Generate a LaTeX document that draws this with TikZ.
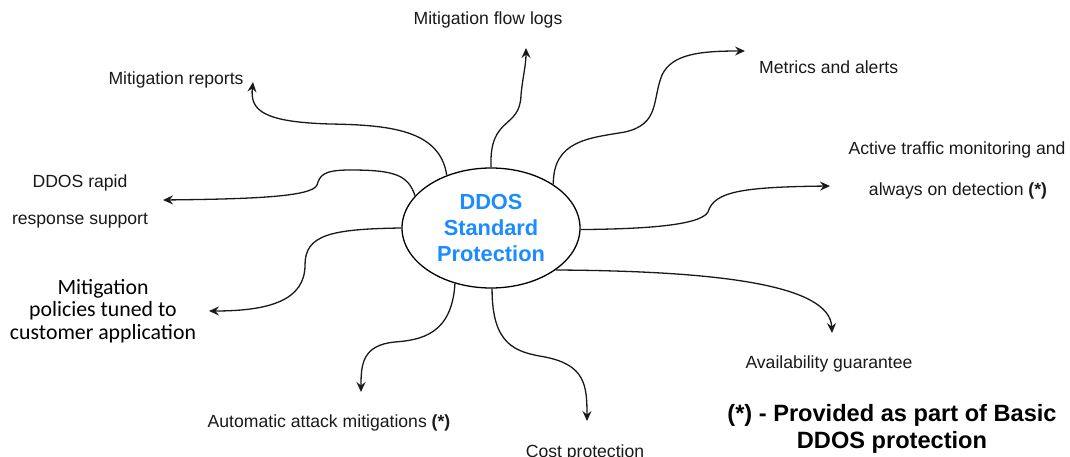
\documentclass[tikz,border=0pt]{standalone}
\usepackage{fontspec}
\setmainfont{Liberation Sans}
\newfontfamily\calib{Carlito}
\usetikzlibrary{shapes.geometric,arrows.meta}
\definecolor{ddblue}{RGB}{26,140,255}
\definecolor{txt}{RGB}{25,25,25}
\begin{document}
\begin{tikzpicture}[x=1pt,y=-1pt,
  conn/.style={line width=1.3pt,draw=black!90,-{Stealth[length=10pt,width=9pt,inset=3.5pt]}},
  lbl/.style={text=txt,font=\fontsize{17.6}{20}\selectfont,inner sep=0pt,align=center},
  hub/.style={ellipse,draw,line width=1.3pt,minimum width=178pt,minimum height=120pt,inner sep=0pt,
    text=ddblue,font=\bfseries\fontsize{21.8}{26}\selectfont,align=center}]
\clip (0,0) rectangle (1070,457);
\useasboundingbox (0,0) rectangle (1070,457);
\node[hub] (e) at (491,228) {DDOS\\Standard\\Protection};

\node[lbl] (logs) at (488,20) {Mitigation flow logs};
\node[lbl] (rep) at (176,80) {Mitigation reports};
\node[lbl,anchor=west] (met) at (759,67) {Metrics and alerts};
\node[lbl] (act1) at (957,150) {Active traffic monitoring and};
\node[lbl] (act2) at (958,191) {always on detection \textbf{(*)}};
\node[lbl] (rap1) at (80,183) {DDOS rapid};
\node[lbl] (rap2) at (80,221) {response support};
\node[lbl,text=black,font=\calib\fontsize{21.8}{22.5}\selectfont] (pol) at (103,311) {Mitigation\\policies tuned to\\customer application};
\node[lbl] (avail) at (829,364) {Availability guarantee};
\node[lbl] (auto) at (329,423) {Automatic attack mitigations \textbf{(*)}};
\node[lbl] (cost) at (585,453) {Cost protection};
\node[lbl,text=black,font=\bfseries\fontsize{23.6}{27}\selectfont] (note) at (892,429) {(*) - Provided as part of Basic\\DDOS protection};

\coordinate (tRep) at (253,82);
\coordinate (tLogs) at (526,48);
\coordinate (tMet) at (745,51);
\coordinate (tAct) at (830,186);
\coordinate (tRap) at (163,200);
\coordinate (tPol) at (209,311);
\coordinate (tAuto) at (361,392);
\coordinate (tCost) at (587,421);
\coordinate (tAv) at (832,333);

\draw[conn] (e.130) .. controls (440,130) and (390,125) .. (330,124) .. controls (262,122) and (250,110) .. (tRep);
\draw[conn] (e.90) .. controls (489,115) and (520,130) .. (521,95) .. controls (523,75) and (526,65) .. (tLogs);
\draw[conn] (e.35) .. controls (553,140) and (590,138) .. (625,132) .. controls (660,124) and (652,100) .. (662,75) .. controls (672,54) and (700,51) .. (tMet);
\draw[conn] (e.-1) .. controls (640,229) and (700,226) .. (708,212) .. controls (714,192) and (740,187) .. (tAct);
\draw[conn] (e.157) .. controls (408,175) and (395,170) .. (350,170) .. controls (322,170) and (320,176) .. (317,185) .. controls (312,197) and (250,199) .. (tRap);
\draw[conn] (e.180) .. controls (330,229) and (305,235) .. (305,265) .. controls (305,300) and (270,311) .. (tPol);
\draw[conn] (e.-123) .. controls (452,335) and (420,340) .. (395,342) .. controls (362,345) and (361,365) .. (tAuto);
\draw[conn] (e.-89) .. controls (492,345) and (515,352) .. (545,357) .. controls (585,365) and (587,385) .. (tCost);
\draw[conn] (e.-33) .. controls (720,271) and (830,285) .. (tAv);
\end{tikzpicture}
\end{document}
